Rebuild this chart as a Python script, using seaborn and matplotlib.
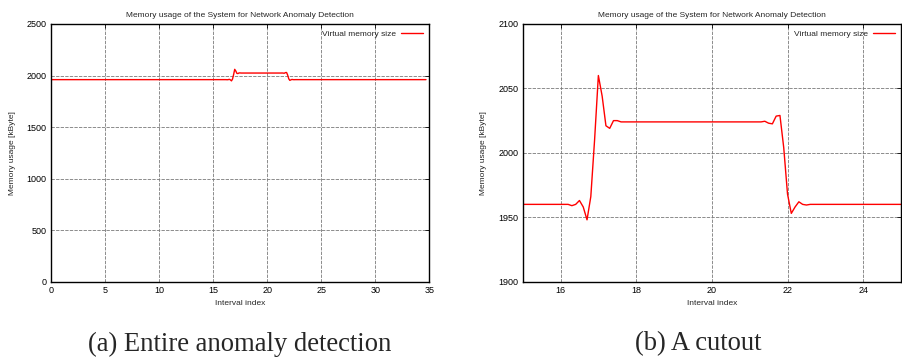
import pandas as pd
import numpy as np
import matplotlib.pyplot as plt
import seaborn as sns

# memory usage samples
interval = [0.0, 16.1, 16.2, 16.3, 16.4, 16.5, 16.6, 16.7, 16.8, 16.9, 17.0,
            17.1, 17.2, 17.3, 17.4, 17.5, 17.6, 17.7, 21.3, 21.4, 21.5, 21.6,
            21.7, 21.8, 21.9, 22.0, 22.1, 22.2, 22.3, 22.4, 22.5, 22.6, 34.7]
memory = [1960, 1960, 1960, 1959, 1960, 1963, 1958, 1948, 1966, 2010, 2060,
          2044, 2021, 2019, 2025, 2025, 2024, 2024, 2024, 2024.5, 2023, 2022.5,
          2028.5, 2029, 2004, 1968, 1953, 1958, 1962, 1960, 1959.5, 1960, 1960]

x_ticks_full = [0, 5, 10, 15, 20, 25, 30, 35]
y_ticks_full = [0, 500, 1000, 1500, 2000, 2500]
x_ticks_cut = [16, 18, 20, 22, 24]
y_ticks_cut = [1900, 1950, 2000, 2050, 2100]

title = "Memory usage of the System for Network Anomaly Detection"
captions = ["(a) Entire anomaly detection", "(b) A cutout"]

df = pd.DataFrame({"interval": interval, "memory": memory})

sns.set_style("white")
plt.rcParams["font.family"] = ["Liberation Sans", "DejaVu Sans"]

fig = plt.figure(figsize=(9.02, 3.61), dpi=100)
ax1 = fig.add_axes([0.0565, 0.2197, 0.4194, 0.7139])
ax2 = fig.add_axes([0.5795, 0.2197, 0.4194, 0.7139])

setups = [
    (ax1, (0, 35), (0, 2500), x_ticks_full, y_ticks_full),
    (ax2, (15, 25), (1900, 2100), x_ticks_cut, y_ticks_cut),
]

for ax, xlim, ylim, xt, yt in setups:
    sns.lineplot(data=df, x="interval", y="memory", ax=ax, color="#ff0000",
                 linewidth=1.0, label="Virtual memory size")
    ax.set_xlim(*xlim)
    ax.set_ylim(*ylim)
    ax.set_xticks(xt)
    ax.set_yticks(yt)
    ax.grid(True, color="#7a7a7a", linestyle=(0, (4, 1.5)), linewidth=0.6)
    ax.tick_params(direction="in", length=3, width=0.6, labelsize=6.5,
                   top=True, right=True, pad=3, colors="black")
    for s in ax.spines.values():
        s.set_color("black")
        s.set_linewidth(1.0)
    ax.set_title(title, fontsize=6, pad=5)
    ax.set_xlabel("Interval index", fontsize=6, labelpad=4)
    ax.set_ylabel("Memory usage [kByte]", fontsize=6, labelpad=8)
    ax.legend(loc="upper right", frameon=False, fontsize=6, markerfirst=False,
              handlelength=2.7, borderaxespad=0.3, handletextpad=0.6)

fig.text(240 / 902, 1 - 344 / 361, captions[0], ha="center", va="center",
         fontsize=19.2, family="Liberation Serif")
fig.text(698 / 902, 1 - 344 / 361, captions[1], ha="center", va="center",
         fontsize=19.2, family="Liberation Serif")

fig.savefig("out.png", dpi=100)
